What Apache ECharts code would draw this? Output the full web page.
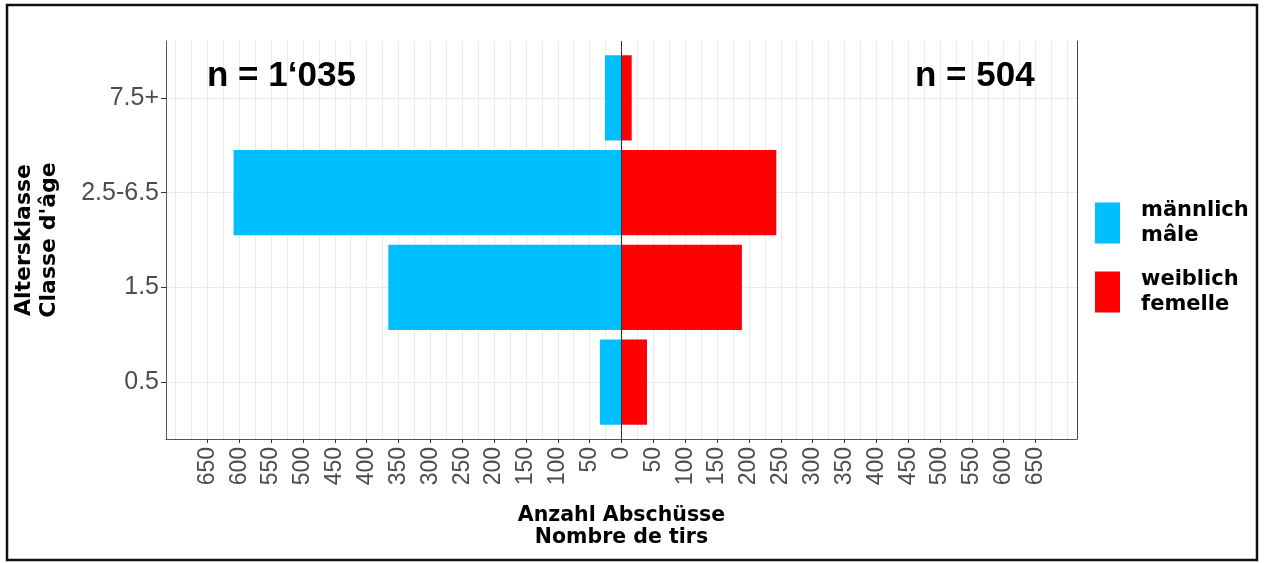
<!DOCTYPE html>
<html>
<head>
<meta charset="utf-8">
<script src="https://cdn.jsdelivr.net/npm/echarts@6/dist/echarts.min.js"></script>
<style>
  html, body { margin: 0; padding: 0; background: #fff; }
  #chart { width: 1265px; height: 563px; }
</style>
</head>
<body>
<div id="chart"></div>
<script>
// age classes, bottom to top
const ageClasses = ['0.5', '1.5', '2.5-6.5', '7.5+'];
const male = [34, 366, 609, 26];
const female = [40, 189, 243, 16];
const xTickValues = [-650, -600, -550, -500, -450, -400, -350, -300, -250, -200, -150, -100, -50,
  0, 50, 100, 150, 200, 250, 300, 350, 400, 450, 500, 550, 600, 650];
const seriesNames = ['männlich\nmâle', 'weiblich\nfemelle'];
const totals = ['n = 1\u2018035', 'n = 504'];

const sans = "Liberation Sans";
const wide = "DejaVu Sans";

// light grid lines every 25 (major + minor)
const gridValues = [];
for (let v = -700; v <= 700; v += 25) gridValues.push(v);

function renderBar(params, api) {
  const x = api.value(0);
  const y = api.value(1);
  const p0 = api.coord([0, y]);
  const p1 = api.coord([x, y]);
  const h = api.size([0, 0.9])[1];
  return {
    type: 'rect',
    shape: { x: Math.min(p0[0], p1[0]), y: p0[1] - h / 2, width: Math.abs(p1[0] - p0[0]), height: h },
    style: api.style()
  };
}

const chart = echarts.init(document.getElementById('chart'));
chart.setOption({
  animation: false,
  grid: { left: 166, right: 188, top: 41, bottom: 124 },
  xAxis: [{
    type: 'value', min: -715, max: 715,
    name: 'Anzahl Abschüsse\nNombre de tirs',
    nameLocation: 'middle', nameGap: 66,
    nameTextStyle: { fontFamily: wide, fontWeight: 'bold', fontSize: 20.5, color: '#000', lineHeight: 22 },
    axisLine: { show: true, onZero: false, lineStyle: { color: '#555', width: 1 } },
    axisTick: { show: true, length: 4, customValues: xTickValues, lineStyle: { color: '#333' } },
    axisLabel: {
      customValues: xTickValues, rotate: 90, margin: 8,
      fontFamily: sans, fontSize: 23, color: '#4d4d4d',
      formatter: v => String(Math.abs(v))
    },
    splitLine: { show: false }
  }, {
    type: 'value', min: -715, max: 715, position: 'top',
    axisLine: { show: false, onZero: false },
    axisTick: { show: false, customValues: gridValues },
    axisLabel: { show: false },
    splitLine: { show: true, lineStyle: { color: '#ebebeb', width: 1 } }
  }],
  yAxis: [{
    type: 'value', min: -0.6, max: 3.6,
    name: 'Altersklasse\nClasse d\'âge',
    nameLocation: 'middle', nameRotate: 90, nameGap: 104,
    nameTextStyle: { fontFamily: wide, fontWeight: 'bold', fontSize: 22, color: '#000', lineHeight: 25 },
    axisLine: { show: true, onZero: false, lineStyle: { color: '#555', width: 1 } },
    axisTick: { show: true, length: 5, customValues: [0, 1, 2, 3], lineStyle: { color: '#333' } },
    axisLabel: {
      customValues: [0, 1, 2, 3], margin: 7,
      fontFamily: sans, fontSize: 25, color: '#4d4d4d',
      formatter: v => ageClasses[Math.round(v)]
    },
    splitLine: { show: true, lineStyle: { color: '#ebebeb', width: 1 } }
  }, {
    type: 'value', min: -0.6, max: 3.6, position: 'right',
    axisLine: { show: true, onZero: false, lineStyle: { color: '#444', width: 1 } },
    axisTick: { show: false }, axisLabel: { show: false }, splitLine: { show: false }
  }],
  legend: {
    orient: 'vertical', left: 1095, top: 198, padding: 0,
    itemWidth: 25, itemHeight: 41, itemGap: 19, icon: 'rect',
    data: seriesNames,
    textStyle: { fontFamily: wide, fontWeight: 'bold', fontSize: 21, color: '#000', lineHeight: 25, padding: [0, 0, 0, 16] }
  },
  series: [{
    name: seriesNames[0], type: 'custom', renderItem: renderBar,
    encode: { x: 0, y: 1 },
    itemStyle: { color: '#00BFFF' },
    data: male.map((v, i) => [-v, i])
  }, {
    name: seriesNames[1], type: 'custom', renderItem: renderBar,
    encode: { x: 0, y: 1 },
    itemStyle: { color: '#FF0000' },
    data: female.map((v, i) => [v, i]),
    markLine: {
      silent: true, symbol: 'none', label: { show: false },
      lineStyle: { color: '#333', width: 1, type: 'solid' },
      data: [{ xAxis: 0 }]
    }
  }],
  graphic: [
    { type: 'rect', z: 100, shape: { x: 7, y: 5, width: 1250, height: 555 },
      style: { fill: 'none', stroke: '#111', lineWidth: 2.5 }, silent: true },
    { type: 'text', z: 100, left: 207, top: 59,
      style: { text: totals[0], fontFamily: sans, fontWeight: 'bold', fontSize: 35, fill: '#000' } },
    { type: 'text', z: 100, left: 915, top: 59,
      style: { text: totals[1], fontFamily: sans, fontWeight: 'bold', fontSize: 35, fill: '#000' } }
  ]
});
</script>
</body>
</html>
